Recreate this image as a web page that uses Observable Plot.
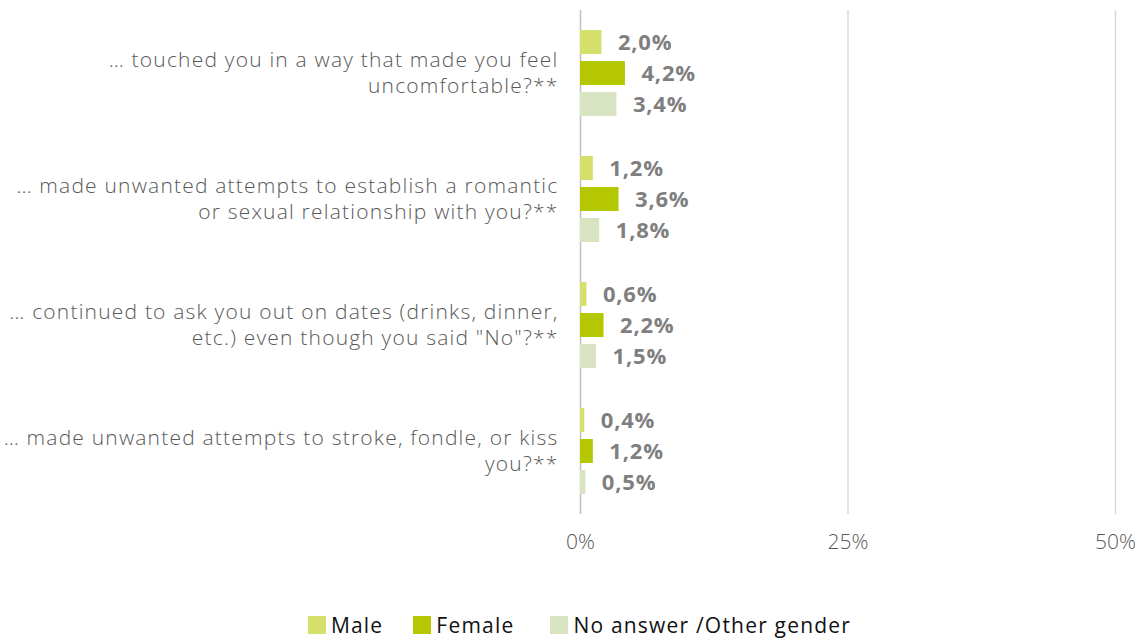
<!DOCTYPE html>
<html>
<head>
<meta charset="utf-8">
<script src="https://cdn.jsdelivr.net/npm/d3@7"></script>
<script src="https://cdn.jsdelivr.net/npm/@observablehq/plot@0.6"></script>
<style>
  html, body { margin: 0; padding: 0; background: #fff; }
  body { width: 1147px; height: 639px; overflow: hidden; font-family: "Open Sans", sans-serif; }
  #chart g[aria-label="fy-axis tick label"] { letter-spacing: 1.2px; }
  #chart g[aria-label="text"] { letter-spacing: 0.8px; }
  #legend { display: flex; justify-content: center; align-items: center; gap: 30px; margin-top: 52px; height: 26px; padding-left: 12px; font-size: 21px; letter-spacing: 1.2px; color: #111; }
  #legend .item { display: flex; align-items: center; gap: 5px; }
  #legend .item:last-child { margin-left: 6px; }
  #legend .sw { width: 18px; height: 18px; display: inline-block; }
</style>
</head>
<body>
<div id="chart"></div>
<div id="legend"></div>
<script>
const questions = [
  "… touched you in a way that made you feel\nuncomfortable?**",
  "… made unwanted attempts to establish a romantic\nor sexual relationship with you?**",
  "… continued to ask you out on dates (drinks, dinner,\netc.) even though you said \"No\"?**",
  "… made unwanted attempts to stroke, fondle, or kiss\nyou?**"
];
const genders = ["Male", "Female", "No answer /Other gender"];
const male = [2.0, 1.2, 0.6, 0.4];
const female = [4.2, 3.6, 2.2, 1.2];
const other = [3.4, 1.8, 1.5, 0.5];
const xTicks = [0, 25, 50];
const colors = ["#d4e06a", "#b5c700", "#d8e4c1"];

const series = [male, female, other];
const data = [];
questions.forEach((q, i) => {
  genders.forEach((g, j) => {
    data.push({question: q, gender: g, value: series[j][i]});
  });
});

const fmt = v => v.toFixed(1).replace(".", ",") + "%";

const chart = Plot.plot({
  width: 1147,
  height: 560,
  marginLeft: 580,
  marginRight: 32,
  marginTop: 10,
  marginBottom: 46,
  style: {fontFamily: "Open Sans, sans-serif", background: "#fff"},
  x: {domain: [0, 50]},
  y: {domain: genders, paddingInner: 0.24, paddingOuter: 0.62, axis: null},
  fy: {domain: questions, padding: 0},
  color: {domain: genders, range: colors},
  marks: [
    Plot.gridX({ticks: [25, 50], stroke: "#d9d9d9", strokeOpacity: 1, strokeWidth: 1.5}),
    Plot.ruleX([0], {stroke: "#bfbfbf", strokeWidth: 1.5}),
    Plot.barX(data, {x: "value", y: "gender", fy: "question", fill: "gender"}),
    Plot.text(data, {
      x: "value", y: "gender", fy: "question",
      text: d => fmt(d.value), dx: 16, textAnchor: "start",
      fontWeight: "bold", fill: "#7f7f7f", fontSize: 22
    }),
    Plot.axisFy({
      anchor: "left", tickSize: 0, tickPadding: 22, label: null, dy: -2,
      fontSize: 21, fill: "#595959", lineHeight: 1.24, fontWeight: 300
    }),
    Plot.axisX({
      ticks: xTicks, tickFormat: d => d + "%", tickSize: 0, tickPadding: 20,
      label: null, fontSize: 21, fill: "#595959", fontWeight: 300
    })
  ]
});
document.getElementById("chart").appendChild(chart);

const legend = document.getElementById("legend");
genders.forEach((g, i) => {
  const item = document.createElement("div");
  item.className = "item";
  const sw = document.createElement("span");
  sw.className = "sw";
  sw.style.background = colors[i];
  const t = document.createElement("span");
  t.textContent = g;
  item.appendChild(sw);
  item.appendChild(t);
  legend.appendChild(item);
});
</script>
</body>
</html>
